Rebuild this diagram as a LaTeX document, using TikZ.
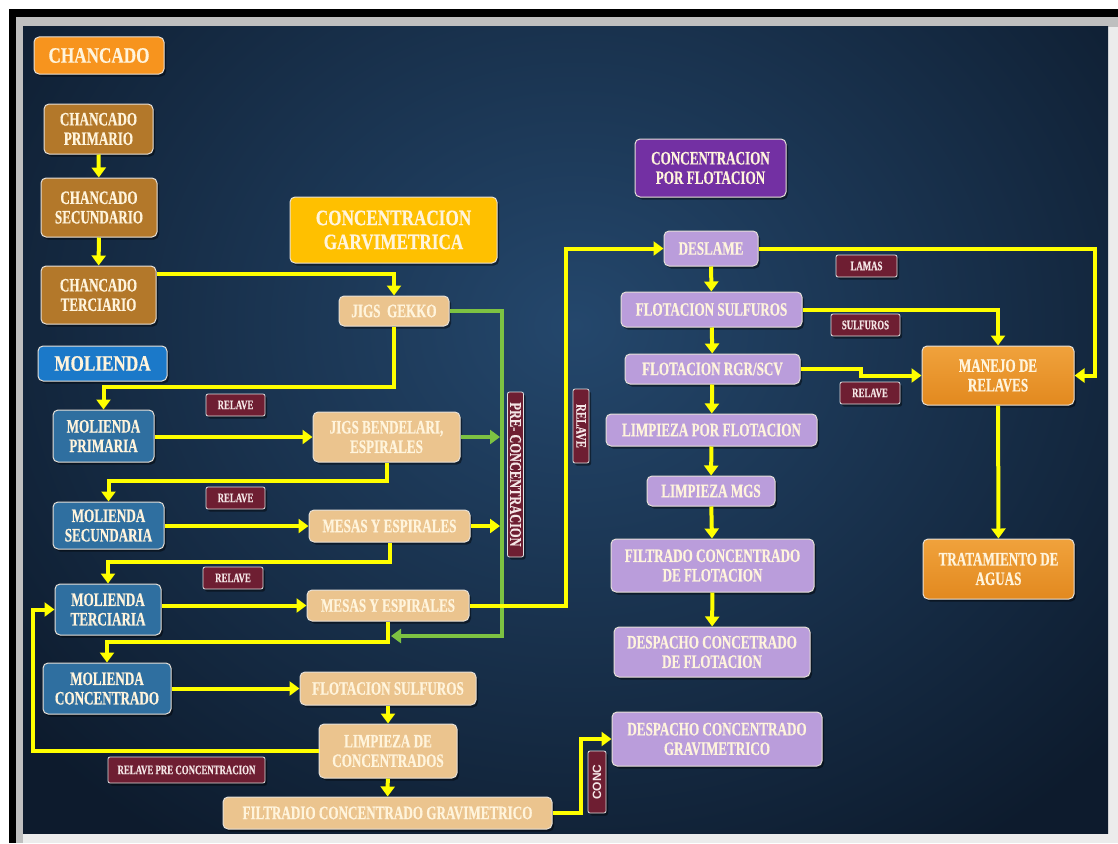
\documentclass[tikz,border=0pt]{standalone}
\usepackage{fontspec}
\setmainfont{Liberation Serif}
\newfontfamily\boxf{Liberation Serif}[FakeStretch=0.69,FakeBold=0.5]
\newfontfamily\labf{Liberation Serif}[FakeStretch=0.68,FakeBold=0.5]
\newfontfamily\vlabf{Liberation Serif}[FakeStretch=0.75,FakeBold=0.5]
\newfontfamily\headf{Liberation Serif}[FakeStretch=0.78,FakeBold=0.5]
\newfontfamily\sansf{Liberation Sans}
\usetikzlibrary{arrows.meta,shadows}
\definecolor{bgin}{HTML}{24476C}
\definecolor{bgout}{HTML}{0D1B2D}
\definecolor{chor}{HTML}{F7941E}
\definecolor{brn}{HTML}{B3782A}
\definecolor{molh}{HTML}{1B79C9}
\definecolor{mol}{HTML}{2F6FA0}
\definecolor{gold}{HTML}{FFC000}
\definecolor{tan}{HTML}{EBC48E}
\definecolor{lav}{HTML}{BA9DDB}
\definecolor{purp}{HTML}{7330A3}
\definecolor{orn}{HTML}{F0A23C}
\definecolor{ornd}{HTML}{E2891F}
\definecolor{maroon}{HTML}{6E1E32}
\definecolor{txt}{HTML}{FFF4DC}
\definecolor{labtxt}{HTML}{F4E6E6}
\definecolor{yel}{HTML}{FFFF00}
\definecolor{grn}{HTML}{7DC242}
\definecolor{edge}{HTML}{E6E0D8}
\begin{document}
\begin{tikzpicture}[x=1pt,y=-1pt,
  shd/.style={drop shadow={shadow xshift=2pt, shadow yshift=-2.5pt, opacity=0.45, fill=black}},
  box/.style={shd, rounded corners=5pt, draw=edge, line width=1pt, align=center, text=txt, inner sep=1pt,
    font=\boxf\bfseries\fontsize{19}{19.5}\selectfont},
  hdr/.style={box, font=\headf\bfseries\fontsize{22}{24}\selectfont},
  lab/.style={shd, rounded corners=2pt, fill=maroon, draw=white!75!gray, line width=0.8pt, text=labtxt, inner sep=1pt,
    font=\labf\bfseries\fontsize{13}{13}\selectfont},
  yarr/.style={draw=yel, line width=4pt, -{Triangle[width=14pt,length=10pt]}},
  garr/.style={draw=grn, line width=4pt, -{Triangle[width=14pt,length=10pt]}}
]
\useasboundingbox (0,0) rectangle (1118,843);
\fill[white] (0,0) rectangle (1118,843);
\fill[black] (9,9) rectangle (1118,843);
\fill[gray!50] (16,17) rectangle (1118,843);
\fill[white!85!gray] (23,833) rectangle (1118,843);
\fill[white!85!gray] (1108,27) rectangle (1118,843);
\begin{scope}
\clip (23,27) rectangle (1108,833);
\shade[inner color=bgin, outer color=bgout] (-150,-300) rectangle (1300,950);
\end{scope}

% named free ends
\coordinate (kL) at (33,0);
\coordinate (kG) at (502,0);
\coordinate (kGa) at (500,0);
\coordinate (kR) at (566,0);
\coordinate (kC) at (581,0);
\coordinate (kS) at (861,0);
\coordinate (kE) at (1095,0);
\coordinate (yGk) at (0,387);
\coordinate (yM1) at (0,481);
\coordinate (yM2) at (0,562);
\coordinate (yM3) at (0,642);
\coordinate (yGr) at (0,636);
\coordinate (yCt) at (0,274);

% CHANCADO
\node[hdr, fill=chor, minimum width=130, minimum height=37] (hch) at (99,55.5) {CHANCADO};
\node[box, fill=brn, minimum width=109, minimum height=50] (cp) at (98.5,129) {CHANCADO\\PRIMARIO};
\node[box, fill=brn, minimum width=116, minimum height=59] (cs) at (99,207.5) {CHANCADO\\SECUNDARIO};
\node[box, fill=brn, minimum width=115, minimum height=58] (ct) at (98.5,295) {CHANCADO\\TERCIARIO};

% MOLIENDA
\node[hdr, fill=molh, minimum width=129, minimum height=35] (hmo) at (102.5,363.5) {MOLIENDA};
\node[box, fill=mol, minimum width=101, minimum height=52] (m1) at (103.5,436) {MOLIENDA\\PRIMARIA};
\node[box, fill=mol, minimum width=111, minimum height=47] (m2) at (108.5,525.5) {MOLIENDA\\SECUNDARIA};
\node[box, fill=mol, minimum width=106, minimum height=51] (m3) at (108,609.5) {MOLIENDA\\TERCIARIA};
\node[box, fill=mol, minimum width=128, minimum height=51] (m4) at (107,688.5) {MOLIENDA\\CONCENTRADO};

% GRAVIMETRICA
\node[hdr, fill=gold, minimum width=207, minimum height=66] (hg) at (393.5,230) {CONCENTRACION\\GARVIMETRICA};
\node[box, fill=tan, minimum width=110, minimum height=30] (gk) at (394,311) {JIGS~~GEKKO};
\node[box, fill=tan, minimum width=147, minimum height=50] (jb) at (386.5,437) {JIGS BENDELARI,\\ESPIRALES};
\node[box, fill=tan, minimum width=161, minimum height=32] (ms1) at (389.5,526) {MESAS Y ESPIRALES};
\node[box, fill=tan, minimum width=162, minimum height=31] (ms2) at (388,605.5) {MESAS Y ESPIRALES};
\node[box, fill=tan, minimum width=176, minimum height=33] (fs) at (388,688.5) {FLOTACION SULFUROS};
\node[box, fill=tan, minimum width=138, minimum height=54] (lc) at (388,751) {LIMPIEZA DE\\CONCENTRADOS};
\node[box, fill=tan, minimum width=329, minimum height=32] (fg) at (387.5,813) {FILTRADIO CONCENTRADO GRAVIMETRICO};

% labels
\node[lab, minimum width=59, minimum height=22] (r1) at (235.5,405) {RELAVE};
\node[lab, minimum width=59, minimum height=22] (r2) at (235.5,498) {RELAVE};
\node[lab, minimum width=60, minimum height=22] (r3) at (233,578) {RELAVE};
\node[lab, minimum width=157, minimum height=26] (rpc) at (186.5,770) {RELAVE PRE CONCENTRACION};
\node[lab, rotate=-90, minimum width=165, minimum height=16, font=\vlabf\bfseries\fontsize{16.5}{16.5}\selectfont] (pc) at (515.5,474.5) {PRE- CONCENTRACION};
\node[lab, rotate=-90, minimum width=74, minimum height=16, font=\vlabf\bfseries\fontsize{14.5}{14.5}\selectfont] (rv) at (581,426) {RELAVE};
\node[lab, rotate=90, minimum width=62, minimum height=18, font=\sansf\bfseries\fontsize{12}{12}\selectfont] (cc) at (597,782) {CONC};
\node[lab, minimum width=61, minimum height=22] (lam) at (866.5,266) {LAMAS};
\node[lab, minimum width=69, minimum height=22] (sul) at (865.5,325) {SULFUROS};
\node[lab, minimum width=60, minimum height=22] (r4) at (870,393) {RELAVE};

% FLOTACION
\node[box, fill=purp, minimum width=151, minimum height=58] (hf) at (710.5,168) {CONCENTRACION\\POR FLOTACION};
\node[box, fill=lav, minimum width=94, minimum height=35] (ds) at (711,248.5) {DESLAME};
\node[box, fill=lav, minimum width=181, minimum height=35] (fsu) at (711.5,309.5) {FLOTACION SULFUROS};
\node[box, fill=lav, minimum width=175, minimum height=30] (rgr) at (712.5,369) {FLOTACION RGR/SCV};
\node[box, fill=lav, minimum width=211, minimum height=32] (lpf) at (711.5,430) {LIMPIEZA POR FLOTACION};
\node[box, fill=lav, minimum width=128, minimum height=30] (mgs) at (711,491) {LIMPIEZA MGS};
\node[box, fill=lav, minimum width=203, minimum height=53] (ffl) at (712.5,565.5) {FILTRADO CONCENTRADO\\DE FLOTACION};
\node[box, fill=lav, minimum width=196, minimum height=50] (dfl) at (712,652) {DESPACHO CONCETRADO\\DE FLOTACION};
\node[box, fill=lav, minimum width=210, minimum height=54] (dgr) at (717,739) {DESPACHO CONCENTRADO\\GRAVIMETRICO};
\node[box, top color=orn, bottom color=ornd, minimum width=152, minimum height=59] (mr) at (998,375.5) {MANEJO DE\\RELAVES};
\node[box, top color=orn, bottom color=ornd, minimum width=151, minimum height=60] (ta) at (998.5,569) {TRATAMIENTO DE\\AGUAS};

% green connectors
\draw[garr] (gk.east) -- (gk.east -| kG) -- (kG |- yGr) -- (391,636);
\draw[garr] (jb.east) -- (jb.east -| kGa);

% yellow connectors
\draw[yarr] (cp) -- (cs);
\draw[yarr] (cs) -- (ct);
\draw[yarr] (ct.east |- yCt) -| (gk.north);
\draw[yarr] (gk.south) -- (gk.south |- yGk) -| (m1.north);
\draw[yarr] (m1.east |- jb.west) -- (jb.west);
\draw[yarr] (jb.south) -- (jb.south |- yM1) -| (m2.north);
\draw[yarr] (m2.east |- ms1.west) -- (ms1.west);
\draw[yarr] (ms1.east) -- (ms1.east -| kGa);
\draw[yarr] (ms1.south) -- (ms1.south |- yM2) -| (m3.north);
\draw[yarr] (m3.east |- ms2.west) -- (ms2.west);
\draw[yarr] (ms2.south) -- (ms2.south |- yM3) -| (m4.north);
\draw[yarr] (m4.east) -- (fs.west);
\draw[yarr] (fs) -- (lc);
\draw[yarr] (lc.west) -- (lc.west -| kL) |- (m3.west);
\draw[yarr] (lc) -- (fg);
\draw[yarr] (fg.east) -- (fg.east -| kC) |- (dgr.west);
\draw[yarr] (ms2.east) -- (ms2.east -| kR) |- (ds.west);
\draw[yarr] (ds) -- (fsu);
\draw[yarr] (ds.east) -- (ds.east -| kE) |- (mr.east);
\draw[yarr] (fsu.east) -| (mr.north);
\draw[yarr] (fsu) -- (rgr);
\draw[yarr] (rgr.east) -- (rgr.east -| kS) -- (kS |- mr.west) -- (mr.west);
\draw[yarr] (rgr) -- (lpf);
\draw[yarr] (lpf) -- (mgs);
\draw[yarr] (mgs) -- (ffl);
\draw[yarr] (ffl) -- (dfl);
\draw[yarr] (mr) -- (ta);
\end{tikzpicture}
\end{document}
